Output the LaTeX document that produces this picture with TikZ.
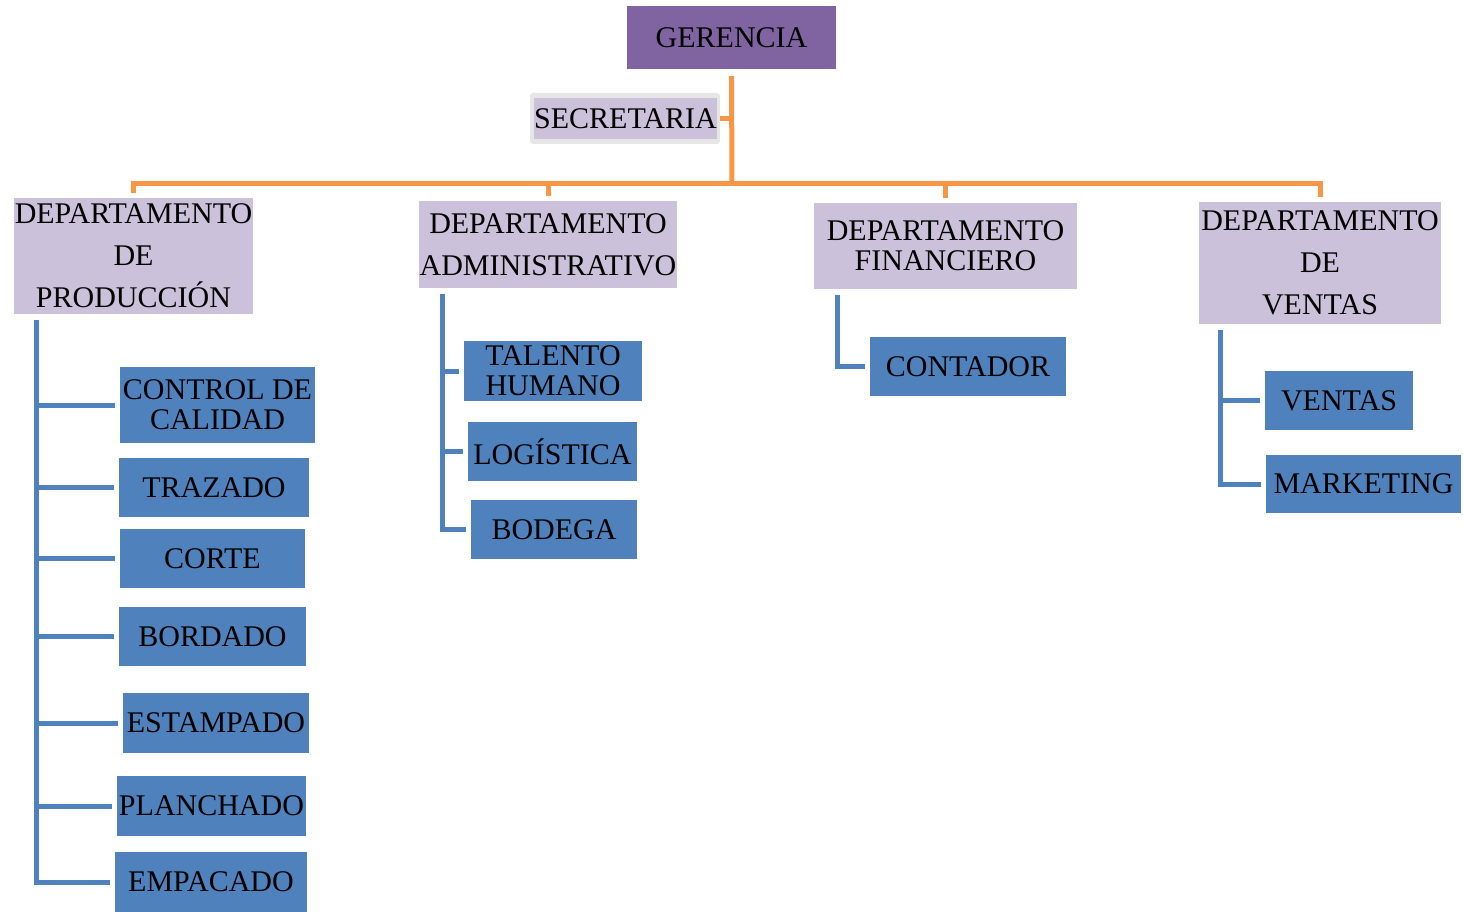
\documentclass[tikz,border=0pt]{standalone}
\usepackage{fontspec}
\setmainfont{Liberation Serif}
\usepackage{tikz}
\usetikzlibrary{positioning}
\definecolor{gerpurple}{HTML}{8064A2}
\definecolor{deptlila}{HTML}{CCC1DA}
\definecolor{areablue}{HTML}{4F81BD}
\definecolor{orgorange}{HTML}{F79646}
\definecolor{secgray}{HTML}{E6E6E6}

\begin{document}
\begin{tikzpicture}[x=1pt,y=-1pt,
  every node/.style={inner sep=0pt,align=center,text=black},
  gerbox/.style={fill=gerpurple,font=\fontsize{30}{30}\selectfont},
  deptbox/.style={fill=deptlila,font=\fontsize{30}{42}\selectfont},
  areabox/.style={fill=areablue,font=\fontsize{30}{30}\selectfont},
  orgline/.style={draw=orgorange,line width=5pt},
  subline/.style={draw=areablue,line width=5pt,shorten >=5pt}]
\useasboundingbox (0,0) rectangle (1463,912);

% Top of the chart.
\node[gerbox,minimum width=209pt,minimum height=63pt] (ger) at (731.5,37.5) {GERENCIA};
\node[fill=secgray,rounded corners=3pt,minimum width=190pt,minimum height=51pt] (secframe) at (625,118.5) {};
\node[deptbox,minimum width=181pt,minimum height=41pt] (sec) at (625.5,118.5) {SECRETARIA};

% Departments.
\node[deptbox,minimum width=239pt,minimum height=116pt] (prod) at (133.5,256) {DEPARTAMENTO\\DE\\PRODUCCIÓN};
\node[deptbox,minimum width=258pt,minimum height=87pt] (admin) at (548,244.5) {DEPARTAMENTO\\ADMINISTRATIVO};
\node[deptbox,font=\fontsize{30}{30}\selectfont,minimum width=263pt,minimum height=86pt] (fin) at (945.5,246) {DEPARTAMENTO\\FINANCIERO};
\node[deptbox,minimum width=242pt,minimum height=122pt] (vent) at (1320,263) {DEPARTAMENTO\\DE\\VENTAS};

% Orange links from the management down to the departments.
\coordinate (bus) at (732,184);
\draw[orgline] ([yshift=-7pt]ger.south) -- (bus);
\draw[orgline] (secframe.east) -- (secframe.east -| bus);
\foreach \d in {prod,admin,fin,vent}
  \draw[orgline] (bus) -| ([yshift=5pt]\d.north);

% Production areas.
\node[areabox,minimum width=195pt,minimum height=76pt] (cc) at (217.5,405) {CONTROL DE\\CALIDAD};
\node[areabox,minimum width=190pt,minimum height=59pt] (traz) at (214,487.5) {TRAZADO};
\node[areabox,minimum width=185pt,minimum height=59pt] (corte) at (212.5,558.5) {CORTE};
\node[areabox,minimum width=187pt,minimum height=59pt] (bord) at (212.5,636.5) {BORDADO};
\node[areabox,minimum width=186pt,minimum height=60pt] (estamp) at (216,723) {ESTAMPADO};
\node[areabox,minimum width=189pt,minimum height=60pt] (planch) at (211.5,806) {PLANCHADO};
\node[areabox,minimum width=192pt,minimum height=60pt] (empac) at (211,882) {EMPACADO};

% Administrative, financial and sales areas.
\node[areabox,minimum width=178pt,minimum height=60pt] (tal) at (553,371) {TALENTO\\HUMANO};
\node[areabox,minimum width=169pt,minimum height=59pt] (log) at (552.5,451.5) {LOGÍSTICA};
\node[areabox,minimum width=166pt,minimum height=59pt] (bod) at (554,529.5) {BODEGA};
\node[areabox,minimum width=196pt,minimum height=59pt] (cont) at (968,366.5) {CONTADOR};
\node[areabox,minimum width=148pt,minimum height=59pt] (ven) at (1339,400.5) {VENTAS};
\node[areabox,minimum width=195pt,minimum height=58pt] (mkt) at (1363.5,484) {MARKETING};

% Blue trunks hang from the lower left corner of each department.
\coordinate (prodtop) at ([xshift=23pt,yshift=-6pt]prod.south west);
\coordinate (admintop) at ([xshift=24pt,yshift=-6pt]admin.south west);
\coordinate (fintop) at ([xshift=24pt,yshift=-6pt]fin.south west);
\coordinate (venttop) at ([xshift=22pt,yshift=-6pt]vent.south west);
\foreach \a in {cc,traz,corte,bord,estamp,planch,empac}
  \draw[subline] (prodtop) |- (\a.west);
\foreach \a in {tal,log,bod}
  \draw[subline] (admintop) |- (\a.west);
\draw[subline] (fintop) |- (cont.west);
\foreach \a in {ven,mkt}
  \draw[subline] (venttop) |- (\a.west);
\end{tikzpicture}
\end{document}
